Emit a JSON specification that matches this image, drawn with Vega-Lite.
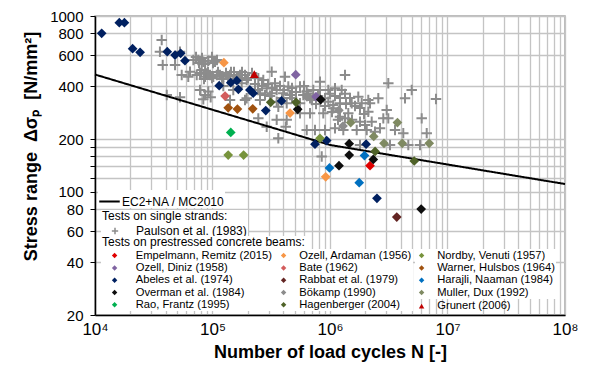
{
  "$schema": "https://vega.github.io/schema/vega-lite/v6.json",
  "width": 470,
  "height": 299,
  "autosize": {"type": "none"},
  "padding": {"left": 95, "top": 16, "right": 25, "bottom": 51},
  "background": "white",
  "config": {
    "font": "Liberation Sans",
    "view": {"stroke": "#a6a6a6", "strokeWidth": 1.5},
    "axis": {"gridColor": "#c4c4c4", "gridWidth": 1.3, "domainColor": "black", "domainWidth": 1.5, "labelColor": "black", "titleColor": "black", "tickColor": "black", "labelFont": "Liberation Sans", "titleFont": "Liberation Sans"},
    "legend": {"labelFont": "Liberation Sans", "titleFont": "Liberation Sans", "labelFontSize": 12, "labelColor": "black", "titleFontSize": 12, "titleFontWeight": "normal", "titleColor": "black", "fillColor": "white", "labelLimit": 300, "titleLimit": 400}
  },
  "datasets": {
    "line": [
      {"N": 10000, "S": 465},
      {"N": 1000000, "S": 185},
      {"N": 100000000, "S": 111}
    ],
    "strands": [
      {"N": 36960, "S": 730}, {"N": 35700, "S": 627}, {"N": 37700, "S": 527}, {"N": 48000, "S": 527}, {"N": 52900, "S": 627},
      {"N": 40800, "S": 356}, {"N": 52900, "S": 345}, {"N": 54700, "S": 462}, {"N": 62200, "S": 452}, {"N": 68700, "S": 562},
      {"N": 75700, "S": 562}, {"N": 83500, "S": 550}, {"N": 92100, "S": 557}, {"N": 105000, "S": 550}, {"N": 73400, "S": 462},
      {"N": 86400, "S": 452}, {"N": 95200, "S": 462}, {"N": 108600, "S": 462}, {"N": 123600, "S": 452}, {"N": 140900, "S": 462},
      {"N": 160700, "S": 452}, {"N": 189100, "S": 462}, {"N": 78300, "S": 380}, {"N": 86400, "S": 356}, {"N": 92100, "S": 372},
      {"N": 83500, "S": 336}, {"N": 96500, "S": 345}, {"N": 123600, "S": 400}, {"N": 140900, "S": 333}, {"N": 189100, "S": 333},
      {"N": 177200, "S": 415}, {"N": 195500, "S": 433}, {"N": 64360, "S": 482}, {"N": 80900, "S": 493}, {"N": 89200, "S": 472},
      {"N": 101600, "S": 452}, {"N": 115800, "S": 462}, {"N": 143700, "S": 481}, {"N": 171400, "S": 462}, {"N": 245400, "S": 443},
      {"N": 270600, "S": 433}, {"N": 319000, "S": 482}, {"N": 340300, "S": 415}, {"N": 289300, "S": 388}, {"N": 351800, "S": 380},
      {"N": 414000, "S": 452}, {"N": 441700, "S": 397}, {"N": 555500, "S": 397}, {"N": 633500, "S": 372}, {"N": 721000, "S": 380},
      {"N": 822100, "S": 423}, {"N": 822100, "S": 380}, {"N": 967200, "S": 380}, {"N": 1103000, "S": 388}, {"N": 253700, "S": 364},
      {"N": 319000, "S": 364}, {"N": 400500, "S": 364}, {"N": 456600, "S": 356}, {"N": 592700, "S": 356}, {"N": 675900, "S": 341},
      {"N": 906600, "S": 341}, {"N": 1067000, "S": 312}, {"N": 555500, "S": 319}, {"N": 428100, "S": 319}, {"N": 351800, "S": 326},
      {"N": 253700, "S": 333}, {"N": 195500, "S": 341}, {"N": 150300, "S": 380}, {"N": 363100, "S": 305}, {"N": 555500, "S": 280},
      {"N": 428100, "S": 257}, {"N": 351800, "S": 257}, {"N": 245400, "S": 262}, {"N": 289300, "S": 235}, {"N": 363100, "S": 202},
      {"N": 633500, "S": 225}, {"N": 745300, "S": 225}, {"N": 906600, "S": 225}, {"N": 1103000, "S": 230}, {"N": 850200, "S": 159},
      {"N": 1342000, "S": 462}, {"N": 3135000, "S": 415}, {"N": 1258000, "S": 380}, {"N": 1741000, "S": 348}, {"N": 2577000, "S": 341},
      {"N": 4348000, "S": 341}, {"N": 4959000, "S": 380}, {"N": 967200, "S": 326}, {"N": 1216000, "S": 319}, {"N": 1530000, "S": 319},
      {"N": 1862000, "S": 319}, {"N": 2190000, "S": 319}, {"N": 1067000, "S": 299}, {"N": 1431000, "S": 280}, {"N": 2118000, "S": 286},
      {"N": 3038000, "S": 292}, {"N": 675900, "S": 280}, {"N": 877000, "S": 280}, {"N": 1216000, "S": 268}, {"N": 2264000, "S": 251},
      {"N": 1800000, "S": 251}, {"N": 2664000, "S": 230}, {"N": 3135000, "S": 262}, {"N": 6031000, "S": 262}, {"N": 1298000, "S": 225},
      {"N": 1688000, "S": 225}, {"N": 2053000, "S": 225}, {"N": 2415000, "S": 220}, {"N": 4205000, "S": 216}, {"N": 6653000, "S": 216},
      {"N": 3575000, "S": 225}, {"N": 7980000, "S": 338}, {"N": 2118000, "S": 333}, {"N": 2842000, "S": 262}, {"N": 1342000, "S": 262},
      {"N": 1986000, "S": 240}, {"N": 419800, "S": 235}, {"N": 1800000, "S": 185}, {"N": 3241000, "S": 185}, {"N": 4638000, "S": 185},
      {"N": 5834000, "S": 185},
      {"N": 72400, "S": 585}, {"N": 76750, "S": 541}, {"N": 81400, "S": 577}, {"N": 86400, "S": 534}, {"N": 99000, "S": 585},
      {"N": 101000, "S": 541}, {"N": 109200, "S": 562}, {"N": 78300, "S": 474}, {"N": 84670, "S": 439}, {"N": 91550, "S": 481},
      {"N": 99000, "S": 444}, {"N": 111400, "S": 481}, {"N": 120500, "S": 439}, {"N": 130300, "S": 474}, {"N": 135500, "S": 439},
      {"N": 152400, "S": 481}, {"N": 164800, "S": 444}, {"N": 178300, "S": 481}, {"N": 200500, "S": 444}, {"N": 216900, "S": 474},
      {"N": 230000, "S": 411}, {"N": 243900, "S": 380}, {"N": 263800, "S": 400}, {"N": 279800, "S": 356}, {"N": 296700, "S": 411},
      {"N": 320800, "S": 390}, {"N": 375400, "S": 400}, {"N": 406000, "S": 380}, {"N": 474900, "S": 390}, {"N": 513500, "S": 370},
      {"N": 600500, "S": 400}, {"N": 649900, "S": 361}, {"N": 702800, "S": 333}, {"N": 790600, "S": 351}, {"N": 1000000, "S": 361},
      {"N": 1103000, "S": 351}, {"N": 1216000, "S": 342}, {"N": 1342000, "S": 361}, {"N": 1480000, "S": 342}, {"N": 1632000, "S": 308},
      {"N": 1800000, "S": 300}, {"N": 1948000, "S": 277}, {"N": 1368000, "S": 316}, {"N": 308600, "S": 351}, {"N": 390500, "S": 342},
      {"N": 474900, "S": 342}, {"N": 760200, "S": 316}, {"N": 906600, "S": 308}, {"N": 1040000, "S": 285}, {"N": 1170000, "S": 257},
      {"N": 1539000, "S": 257}
    ],
    "beams": [
      {"source": "Empelmann, Remitz (2015)", "N": 2190000, "S": 141},
      {"source": "Ozell, Ardaman (1956)", "N": 125000, "S": 543},
      {"source": "Ozell, Ardaman (1956)", "N": 457000, "S": 281},
      {"source": "Ozell, Ardaman (1956)", "N": 919000, "S": 122},
      {"source": "Nordby, Venuti (1957)", "N": 136000, "S": 162},
      {"source": "Nordby, Venuti (1957)", "N": 184000, "S": 162},
      {"source": "Nordby, Venuti (1957)", "N": 822000, "S": 202},
      {"source": "Ozell, Diniz (1958)", "N": 511000, "S": 464},
      {"source": "Ozell, Diniz (1958)", "N": 760000, "S": 348},
      {"source": "Bate (1962)", "N": 128000, "S": 351},
      {"source": "Warner, Hulsbos (1964)", "N": 136000, "S": 301},
      {"source": "Warner, Hulsbos (1964)", "N": 163000, "S": 296},
      {"source": "Warner, Hulsbos (1964)", "N": 220000, "S": 297},
      {"source": "Abeles et al. (1974)", "N": 11400, "S": 797},
      {"source": "Abeles et al. (1974)", "N": 16100, "S": 916},
      {"source": "Abeles et al. (1974)", "N": 17800, "S": 916},
      {"source": "Abeles et al. (1974)", "N": 20900, "S": 652},
      {"source": "Abeles et al. (1974)", "N": 24200, "S": 622},
      {"source": "Abeles et al. (1974)", "N": 41200, "S": 627},
      {"source": "Abeles et al. (1974)", "N": 48000, "S": 600},
      {"source": "Abeles et al. (1974)", "N": 53600, "S": 614},
      {"source": "Abeles et al. (1974)", "N": 58300, "S": 557},
      {"source": "Abeles et al. (1974)", "N": 114000, "S": 402},
      {"source": "Abeles et al. (1974)", "N": 143000, "S": 418},
      {"source": "Abeles et al. (1974)", "N": 161000, "S": 429},
      {"source": "Abeles et al. (1974)", "N": 166000, "S": 383},
      {"source": "Abeles et al. (1974)", "N": 208000, "S": 380},
      {"source": "Abeles et al. (1974)", "N": 222000, "S": 364},
      {"source": "Abeles et al. (1974)", "N": 284000, "S": 290},
      {"source": "Abeles et al. (1974)", "N": 387000, "S": 329},
      {"source": "Abeles et al. (1974)", "N": 745000, "S": 187},
      {"source": "Abeles et al. (1974)", "N": 937000, "S": 196},
      {"source": "Abeles et al. (1974)", "N": 2030000, "S": 187},
      {"source": "Abeles et al. (1974)", "N": 2510000, "S": 92},
      {"source": "Rabbat et al. (1979)", "N": 3700000, "S": 72},
      {"source": "Harajli, Naaman (1984)", "N": 1966000, "S": 161},
      {"source": "Harajli, Naaman (1984)", "N": 990000, "S": 137},
      {"source": "Harajli, Naaman (1984)", "N": 1773000, "S": 113},
      {"source": "Overman et al. (1984)", "N": 834000, "S": 335},
      {"source": "Overman et al. (1984)", "N": 531000, "S": 295},
      {"source": "Overman et al. (1984)", "N": 1457000, "S": 188},
      {"source": "Overman et al. (1984)", "N": 1457000, "S": 162},
      {"source": "Overman et al. (1984)", "N": 1193000, "S": 141},
      {"source": "Overman et al. (1984)", "N": 2336000, "S": 153},
      {"source": "Overman et al. (1984)", "N": 5970000, "S": 80},
      {"source": "Bökamp (1990)", "N": 1190000, "S": 291},
      {"source": "Bökamp (1990)", "N": 1290000, "S": 237},
      {"source": "Bökamp (1990)", "N": 637000, "S": 347},
      {"source": "Muller, Dux (1992)", "N": 1500000, "S": 248},
      {"source": "Muller, Dux (1992)", "N": 3750000, "S": 248},
      {"source": "Muller, Dux (1992)", "N": 2355000, "S": 207},
      {"source": "Muller, Dux (1992)", "N": 2880000, "S": 189},
      {"source": "Muller, Dux (1992)", "N": 4120000, "S": 189},
      {"source": "Muller, Dux (1992)", "N": 6990000, "S": 189},
      {"source": "Rao, Frantz (1995)", "N": 143000, "S": 218},
      {"source": "Hagenberger (2004)", "N": 313000, "S": 323},
      {"source": "Hagenberger (2004)", "N": 514000, "S": 323},
      {"source": "Hagenberger (2004)", "N": 2420000, "S": 170},
      {"source": "Hagenberger (2004)", "N": 5210000, "S": 150},
      {"source": "Grunert (2006)", "N": 227000, "S": 467}
    ]
  },
  "encoding": {
    "x": {
      "field": "N", "type": "quantitative",
      "scale": {"type": "log", "domain": [10000, 100000000], "nice": false},
      "axis": {
        "values": [10000, 20000, 30000, 40000, 50000, 60000, 70000, 80000, 90000, 100000, 200000, 300000, 400000, 500000, 600000, 700000, 800000, 900000, 1000000, 2000000, 3000000, 4000000, 5000000, 6000000, 7000000, 8000000, 9000000, 10000000, 20000000, 30000000, 40000000, 50000000, 60000000, 70000000, 80000000, 90000000, 100000000],
        "labelExpr": "datum.value == 10000 ? '10⁴' : datum.value == 100000 ? '10⁵' : datum.value == 1000000 ? '10⁶' : datum.value == 10000000 ? '10⁷' : datum.value == 100000000 ? '10⁸' : ''",
        "ticks": false,
        "labelFontSize": 17,
        "labelPadding": 6,
        "labelFlush": false,
        "labelOverlap": false,
        "title": "Number of load cycles N [-]",
        "titleFontSize": 18,
        "titleFontWeight": "bold",
        "titlePadding": 6
      }
    },
    "y": {
      "field": "S", "type": "quantitative",
      "scale": {"type": "log", "domain": [20, 1000], "nice": false},
      "axis": {
        "values": [20, 40, 60, 80, 100, 120, 140, 160, 180, 200, 400, 600, 800, 1000],
        "format": "d",
        "labelExpr": "datum.value > 100 && datum.value < 200 ? '' : datum.label",
        "tickSize": 5,
        "labelFontSize": 15,
        "labelPadding": 7,
        "labelOverlap": false,
        "labelFlush": false,
        "title": "Stress range\u00a0\u00a0Δσₚ\u00a0\u00a0[N/mm²]",
        "titleFontSize": 18,
        "titleFontWeight": "bold",
        "titleX": -64,
        "titleY": 130,
        "titleBaseline": "middle"
      }
    }
  },
  "layer": [
    {
      "data": {"name": "strands"},
      "mark": {"type": "point", "shape": "M-1,0L1,0M0,-1L0,1", "filled": false, "color": "#8c8c8c", "strokeWidth": 2, "size": 110},
      "encoding": {
        "opacity": {
          "datum": "Paulson et al. (1983)", "type": "ordinal",
          "scale": {"domain": ["Paulson et al. (1983)"], "range": [1]},
          "legend": {"title": "Tests on single strands:", "orient": "none", "legendX": 6, "legendY": 194, "padding": 1, "titlePadding": 2, "symbolType": "M-1,0L1,0M0,-1L0,1", "symbolSize": 40, "symbolStrokeWidth": 1.5, "symbolStrokeColor": "#8c8c8c", "symbolFillColor": "transparent", "symbolOffset": 7, "labelOffset": 15}
        }
      }
    },
    {
      "data": {"name": "line"},
      "mark": {"type": "line", "color": "black", "strokeWidth": 2},
      "encoding": {
        "strokeDash": {
          "datum": "EC2+NA / MC2010", "type": "nominal",
          "scale": {"domain": ["EC2+NA / MC2010"], "range": [[1, 0]]},
          "legend": {"title": null, "orient": "none", "legendX": 3, "legendY": 174, "padding": 0, "symbolType": "stroke", "symbolSize": 420, "symbolStrokeColor": "black", "symbolStrokeWidth": 2, "labelOffset": 1}
        }
      }
    },
    {
      "data": {"name": "beams"},
      "transform": [{"filter": {"field": "source", "oneOf": ["Empelmann, Remitz (2015)", "Ozell, Diniz (1958)", "Abeles et al. (1974)", "Overman et al. (1984)", "Rao, Frantz (1995)"]}}],
      "mark": {"type": "point", "shape": "diamond", "filled": true, "size": 95, "opacity": 1},
      "encoding": {
        "color": {
          "field": "source", "type": "nominal",
          "scale": {
            "domain": ["Empelmann, Remitz (2015)", "Ozell, Diniz (1958)", "Abeles et al. (1974)", "Overman et al. (1984)", "Rao, Frantz (1995)"],
            "range": ["#e00000", "#8064a2", "#002060", "#0d0d0d", "#00b050"]
          },
          "legend": {"title": "Tests on prestressed concrete beams:", "orient": "none", "legendX": 6, "legendY": 220, "padding": 1, "titlePadding": 1, "rowPadding": 0.3, "symbolSize": 30, "symbolOpacity": 1, "symbolOffset": 7, "labelOffset": 15.5, "labelFontSize": 11.2}
        }
      }
    },
    {
      "data": {"name": "beams"},
      "transform": [{"filter": {"field": "source", "oneOf": ["Ozell, Ardaman (1956)", "Bate (1962)", "Rabbat et al. (1979)", "Bökamp (1990)", "Hagenberger (2004)"]}}],
      "mark": {"type": "point", "shape": "diamond", "filled": true, "size": 95, "opacity": 1},
      "encoding": {
        "color": {
          "field": "source", "type": "nominal",
          "scale": {
            "domain": ["Ozell, Ardaman (1956)", "Bate (1962)", "Rabbat et al. (1979)", "Bökamp (1990)", "Hagenberger (2004)"],
            "range": ["#f79646", "#d35c5c", "#632523", "#8c8c8c", "#4f6228"]
          },
          "legend": {"title": null, "orient": "none", "legendX": 182, "legendY": 233, "padding": 1, "rowPadding": 0.3, "symbolSize": 30, "symbolOpacity": 1, "symbolOffset": 0, "labelOffset": 10, "labelFontSize": 11.2}
        }
      }
    },
    {
      "data": {"name": "beams"},
      "transform": [{"filter": {"field": "source", "oneOf": ["Nordby, Venuti (1957)", "Warner, Hulsbos (1964)", "Harajli, Naaman (1984)", "Muller, Dux (1992)"]}}],
      "mark": {"type": "point", "shape": "diamond", "filled": true, "size": 95, "opacity": 1},
      "encoding": {
        "color": {
          "field": "source", "type": "nominal",
          "scale": {
            "domain": ["Nordby, Venuti (1957)", "Warner, Hulsbos (1964)", "Harajli, Naaman (1984)", "Muller, Dux (1992)"],
            "range": ["#77933c", "#a0520f", "#0070c0", "#7f8a62"]
          },
          "legend": {"title": null, "orient": "none", "legendX": 320, "legendY": 233, "padding": 1, "rowPadding": 0.3, "symbolSize": 30, "symbolOpacity": 1, "symbolOffset": 0, "labelOffset": 10, "labelFontSize": 11.2}
        }
      }
    },
    {
      "data": {"name": "beams"},
      "transform": [{"filter": {"field": "source", "equal": "Grunert (2006)"}}],
      "mark": {"type": "point", "shape": "triangle-up", "filled": true, "size": 80, "opacity": 1},
      "encoding": {
        "color": {
          "field": "source", "type": "nominal",
          "scale": {"domain": ["Grunert (2006)"], "range": ["#c00000"]},
          "legend": {"title": null, "orient": "none", "legendX": 320, "legendY": 283.5, "padding": 1, "fillColor": "transparent", "symbolSize": 30, "symbolOpacity": 1, "symbolOffset": 0, "labelOffset": 10, "labelFontSize": 11.2}
        }
      }
    }
  ],
  "resolve": {"scale": {"color": "independent"}}
}
